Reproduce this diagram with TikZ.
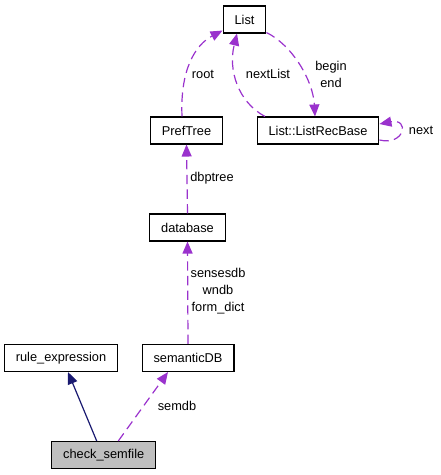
\documentclass[tikz,border=0pt]{standalone}
\usepackage{fontspec}
\setmainfont{Liberation Sans}
\usetikzlibrary{arrows.meta,calc}
\definecolor{edgenavy}{RGB}{25,25,112}
\definecolor{edgeorchid}{RGB}{154,50,205}
\definecolor{boxgray}{RGB}{191,191,191}

\begin{document}
\begin{tikzpicture}[
    x=0.75pt, y=-0.75pt,
    cls/.style={
        rectangle, draw=black, line width=0.8pt,
        minimum height=20.25pt, inner xsep=8.6pt, inner ysep=0pt,
        font=\fontsize{9.6}{11}\selectfont
    },
    lbl/.style={font=\fontsize{9.6}{13}\selectfont, align=center, inner sep=0pt},
    inherit/.style={line width=0.9pt, edgenavy, -{Triangle[length=9pt, width=7.5pt]}},
    uses/.style={line width=0.9pt, edgeorchid, dash pattern=on 7pt off 4pt,
        -{Triangle[length=9pt, width=7.5pt]}}
]
\useasboundingbox (0,0) rectangle (440,475);

% Classes
\node[cls] (list)     at (244.5, 19.5) {List};
\node[cls] (preftree) at (186.5, 130.5) {PrefTree};
\node[cls] (recbase)  at (318, 130.5) {List::ListRecBase};
\node[cls] (database) at (187.5, 227.5) {database};
\node[cls] (semdb)    at (188, 358) {semanticDB};
\node[cls] (ruleexp)  at (61, 358) {rule\_expression};
\node[cls, fill=boxgray] (check) at (103.7, 455) {check\_semfile};

% Inheritance
\draw[inherit] ($(check.north)+(-7,0)$) -- ($(ruleexp.south)+(7,0)$);

% Usage
\draw[uses] ($(check.north)+(14.6,0)$) -- ($(semdb.south)+(-20,0)$);
\draw[uses] (semdb.north) -- (database.south);
\draw[uses] (database.north) -- (preftree.south);
\draw[uses] ($(preftree.north)+(-4.5,0)$) .. controls (180,70) and (195,45) .. ($(list.south west)+(0,-3)$);
\draw[uses] ($(recbase.north)+(-53,0)$) .. controls (238,102) and (228,70) .. ($(list.south)+(-7.5,0)$);
\draw[uses] ($(list.south east)+(0,-1)$) .. controls (292,45) and (313,80) .. ($(recbase.north)+(-3,0)$);
\draw[uses] ($(recbase.east)+(0,9.5)$) .. controls (405,146) and (410,118) .. ($(recbase.east)+(0,-6.5)$);

% Labels
\node[lbl] (lroot)     at (203, 74) {root};
\node[lbl] (lnextlist) at (268, 74) {nextList};
\node[lbl] (lbegin)    at (331, 74.5) {begin\\end};
\node[lbl] (lnext)     at (421, 130) {next};
\node[lbl] (ldbptree)  at (212, 178) {dbptree};
\node[lbl] (lsenses)   at (218, 291) {sensesdb\\wndb\\form\_dict};
\node[lbl] (lsemdb)    at (177, 406) {semdb};

\end{tikzpicture}
\end{document}
